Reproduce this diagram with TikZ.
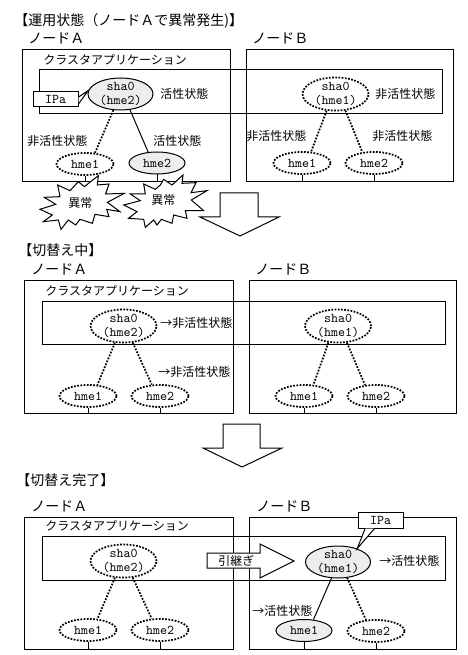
\documentclass[tikz,border=0pt]{standalone}
\usepackage{fontspec}
\setmainfont{Noto Sans CJK JP}
\usetikzlibrary{shapes.geometric}
\tikzset{
  x=.75pt,y=-.75pt,
  thinline/.style={draw=black,line width=.75pt},
  plainrect/.style={rectangle,thinline,fill=white,inner sep=0pt},
  dotline/.style={draw=black,line width=1.3pt,dash pattern=on 1.3pt off 1.1pt},
  elli/.style={ellipse,inner sep=0pt,minimum width=#1},
  greyfill/.style={fill=black!7},
  jp/.style={inner sep=0pt,anchor=west,font=\fontsize{9}{10}\selectfont,text height=7.5pt,text depth=1.2pt},
  jpbig/.style={inner sep=0pt,anchor=west,font=\fontsize{10.5}{12}\selectfont,text height=8.7pt,text depth=1.4pt},
  latin/.style={font=\ttfamily\fontsize{10}{10.5}\selectfont,align=center,inner sep=0pt},
  shaon/.style={elli=65,minimum height=32,thinline,greyfill},
  shaoff/.style={elli=66,minimum height=33,dotline},
  hmeon/.style={elli=56,minimum height=22,thinline,greyfill,latin},
  hmeoff/.style={elli=57,minimum height=22,dotline,latin},
  minimum width/.code={\pgfmathsetlengthmacro\mw{(#1)*.75pt}\pgfkeysalso{/pgf/minimum width=\mw}},
  minimum height/.code={\pgfmathsetlengthmacro\mh{(#1)*.75pt}\pgfkeysalso{/pgf/minimum height=\mh}},
  bigarrow/.style={thinline,fill=white,line join=miter},
}
\begin{document}
\begin{tikzpicture}
\useasboundingbox (0,0) rectangle (467,655);
% ---------- panel 1
\node[jpbig] (t1) at (14,21) {【運用状態（ノードＡで異常発生)】};
\node[jpbig] (n1a) at (28,39) {ノードＡ};
\node[jpbig] (n1b) at (252,39) {ノードＢ};
\draw[thinline] (22.5,50) rectangle (230,182) coordinate (box1a);
\draw[thinline] (246,50) rectangle (453,182) coordinate (box1b);
\draw[thinline] (39,70) rectangle (442,114);
\node[jp] (c1) at (43,60) {クラスタアプリケーション};
\node[shaon,label={[latin]center:{sha0\\(hme2)}}] (sha1a) at (120.5,94) {};
\node[hmeoff] (h11a) at (85,164) {hme1};
\node[hmeon] (h21a) at (157,163) {hme2};
\node[shaoff,label={[latin]center:{sha0\\(hme1)}}] (sha1b) at (335.5,94) {};
\node[hmeoff] (h11b) at (302,163) {hme1};
\node[hmeoff] (h21b) at (374,163) {hme2};
\draw[dotline] (sha1a.246) -- (h11a.48);
\draw[thinline] (sha1a.301) -- (h21a.129);
\draw[dotline] (sha1b.242) -- (h11b.51);
\draw[dotline] (sha1b.301) -- (h21b.137);
\draw[thinline] (h11a.south) -- (h11a.south |- box1a);
\draw[thinline] (h21a.south) -- (h21a.south |- box1a);
\draw[thinline] (h11b.south) -- (h11b.south |- box1b);
\draw[thinline] (h21b.south) -- (h21b.south |- box1b);
\node[plainrect,minimum width=45,minimum height=15,font=\ttfamily\fontsize{10}{10.5}\selectfont] (ipa1) at (55.5,99.5) {IPa};
\draw[thinline,fill=white] (ipa1.6) -- (sha1a.174) -- (ipa1.-11);
\node[jp] at (160,94) {活性状態};
\node[jp] at (27,141) {非活性状態};
\node[jp] at (153,141) {活性状態};
\node[jp] at (375,94) {非活性状態};
\node[jp] at (246,136) {非活性状態};
\node[jp] at (372,136) {非活性状態};
% bursts
\begin{scope}[shift={(35,170)},x=.25pt,y=-.25pt]
\draw[thinline,fill=white] (130,35)--(148,50)--(190,17)--(187,45)--(222,42)--(212,72)--(268,70)--(217,97)--(255,125)--(215,118)--(222,140)--(180,133)--(172,160)--(135,148)--(122,165)--(100,150)--(78,178)--(70,150)--(25,155)--(52,135)--(15,118)--(62,103)--(28,82)--(75,80)--(68,45)--(105,62)--cycle;
\end{scope}
\begin{scope}[shift={(122,170)},x=.25pt,y=-.25pt]
\draw[thinline,fill=white] (115,45)--(125,28)--(150,45)--(183,15)--(180,40)--(222,38)--(207,68)--(255,62)--(208,90)--(245,122)--(190,122)--(195,145)--(155,135)--(150,160)--(118,148)--(105,165)--(95,150)--(70,172)--(65,148)--(20,145)--(45,125)--(5,105)--(55,92)--(25,72)--(70,72)--(65,42)--(100,58)--cycle;
\end{scope}
\node[jp] at (68,203) {異常};
\node[jp] at (151,200) {異常};
\draw[bigarrow] (220,193) -- (258,193) -- (258,217) -- (279,217) -- (240,236) -- (200,217) -- (220,217) -- cycle;
% ---------- panel 2
\node[jpbig] (t2) at (18,251) {【切替え中】};
\node[jpbig] (n2a) at (31,270) {ノードＡ};
\node[jpbig] (n2b) at (255,270) {ノードＢ};
\draw[thinline] (24.5,281) rectangle (233.5,413) coordinate (box2a);
\draw[thinline] (249.5,281) rectangle (456,413) coordinate (box2b);
\draw[thinline] (42,301) rectangle (445,344);
\node[jp] (c2) at (45,291) {クラスタアプリケーション};
\node[shaoff,label={[latin]center:{sha0\\(hme2)}}] (sha2a) at (123.5,326) {};
\node[hmeoff] (h12a) at (88,396) {hme1};
\node[hmeoff] (h22a) at (160,396) {hme2};
\node[shaoff,label={[latin]center:{sha0\\(hme1)}}] (sha2b) at (338,326) {};
\node[hmeoff] (h12b) at (304,396) {hme1};
\node[hmeoff] (h22b) at (376,396) {hme2};
\draw[dotline] (sha2a.243) -- (h12a.50);
\draw[dotline] (sha2a.299) -- (h22a.126);
\draw[dotline] (sha2b.240) -- (h12b.50);
\draw[dotline] (sha2b.298) -- (h22b.135);
\draw[thinline] (h12a.south) -- (h12a.south |- box2a);
\draw[thinline] (h22a.south) -- (h22a.south |- box2a);
\draw[thinline] (h12b.south) -- (h12b.south |- box2b);
\draw[thinline] (h22b.south) -- (h22b.south |- box2b);
\node[jp] at (160,323) {→非活性状態};
\node[jp] at (158,372) {→非活性状態};
\draw[bigarrow] (223,424) -- (260,424) -- (260,448) -- (282,448) -- (242,467) -- (203,448) -- (223,448) -- cycle;
% ---------- panel 3
\node[jpbig] (t3) at (16,481) {【切替え完了】};
\node[jpbig] (n3a) at (31,507) {ノードＡ};
\node[jpbig] (n3b) at (256,507) {ノードＢ};
\draw[thinline] (24.5,517) rectangle (233.5,649) coordinate (box3a);
\draw[thinline] (249.5,517) rectangle (456,649) coordinate (box3b);
\draw[thinline] (42,536) rectangle (445,580);
\node[jp] (c3) at (45,526) {クラスタアプリケーション};
\node[shaoff,label={[latin]center:{sha0\\(hme2)}}] (sha3a) at (123.5,561) {};
\node[hmeoff] (h13a) at (88,630) {hme1};
\node[hmeoff] (h23a) at (160,630) {hme2};
\node[shaon,label={[latin]center:{sha0\\(hme1)}}] (sha3b) at (338,562) {};
\node[hmeon] (h13b) at (304,630.5) {hme1};
\node[hmeoff] (h23b) at (376,631) {hme2};
\draw[dotline] (sha3a.243) -- (h13a.50);
\draw[dotline] (sha3a.299) -- (h23a.126);
\draw[thinline] (sha3b.248) -- (h13b.49);
\draw[dotline] (sha3b.300) -- (h23b.132);
\draw[thinline] (h13a.south) -- (h13a.south |- box3a);
\draw[thinline] (h23a.south) -- (h23a.south |- box3a);
\draw[thinline] (h13b.south) -- (h13b.south |- box3b);
\draw[thinline] (h23b.south) -- (h23b.south |- box3b);
\node[plainrect,minimum width=45,minimum height=16,font=\ttfamily\fontsize{10}{10.5}\selectfont] (ipa3) at (380.5,520) {IPa};
\draw[thinline,fill=white] (ipa3.209) -- (sha3b.35) -- (ipa3.235);
\node[jp] at (379,561) {→活性状態};
\node[jp] at (252,611) {→活性状態};
\draw[bigarrow] (207,553) -- (260,553) -- (260,544) -- (294,561) -- (260,578) -- (260,568) -- (207,568) -- cycle;
\node[jp] at (218,561) {引継ぎ};
\end{tikzpicture}
\end{document}
